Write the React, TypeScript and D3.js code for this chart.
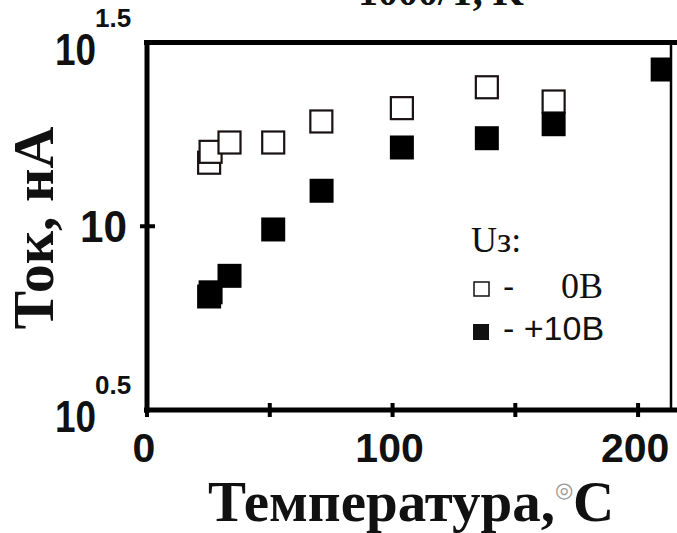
import React from "react";
import * as d3 from "d3";

const W = 677;
const H = 533;

// Data (temperature °C, current nA)
const openT = [25.3, 25.9, 33.6, 51.4, 71.0, 103.8, 138.4, 165.6];
const openI = [14.89, 15.94, 16.9, 16.9, 19.28, 20.96, 23.89, 21.85];
const filledT = [25.3, 25.9, 33.6, 51.4, 71.1, 103.8, 138.4, 165.6, 210.0];
const filledI = [6.44, 6.61, 7.33, 9.8, 12.49, 16.38, 17.36, 18.95, 26.7];

const xTicks = [0, 50, 100, 150, 200];
const xTickLabels = ["0", "", "100", "", "200"];
const yTicks = [Math.pow(10, 0.5), 10, Math.pow(10, 1.5)];
const yTickExp = ["0.5", "", "1.5"];

const SANS = "'Liberation Sans', Arial, sans-serif";
const SERIF = "'Liberation Serif', 'Times New Roman', serif";

export default function App() {
  const left = 147, right = 671, top = 42.5, bottom = 410;
  const x = d3.scaleLinear().domain([0, 213.4]).range([left, right]);
  const y = d3.scaleLog().domain([Math.pow(10, 0.5), Math.pow(10, 1.5)]).range([bottom, top]);
  const ms = 24;

  return (
    <svg width={W} height={H} style={{ position: "absolute", left: 0, top: 0, background: "#fff" }}>
      <defs>
        <clipPath id="plotclip">
          <rect x={left} y={top - 3} width={right - left} height={bottom - top + 3} />
        </clipPath>
      </defs>
      {/* clipped top title */}
      <text x={441} y={5} textAnchor="middle" fontFamily={SERIF} fontWeight="bold" fontSize={40} fill="#111">
        1000/T, K
      </text>

      {/* frame */}
      <line x1={144} x2={W} y1={top} y2={top} stroke="#000" strokeWidth={5} />
      <line x1={144} x2={W} y1={bottom} y2={bottom} stroke="#000" strokeWidth={5} />
      <line x1={left} x2={left} y1={top - 2.5} y2={bottom + 3} stroke="#000" strokeWidth={5} />
      <line x1={right} x2={right} y1={top} y2={bottom} stroke="#000" strokeWidth={2.5} />

      {/* x ticks */}
      {xTicks.map((t, i) => (
        <g key={"xt" + i}>
          <line x1={x(t)} x2={x(t)} y1={bottom - 7} y2={bottom + 7} stroke="#000" strokeWidth={4} />
          {xTickLabels[i] && (
            <text x={x(t) - 3} y={462} textAnchor="middle" fontFamily={SANS} fontWeight="bold" fontSize={41} fill="#111">
              {xTickLabels[i]}
            </text>
          )}
        </g>
      ))}

      {/* y ticks */}
      {yTicks.map((t, i) => {
        const yy = y(t);
        if (yTickExp[i] === "") {
          return (
            <g key={"yt" + i}>
              <line x1={left - 7} x2={left + 8} y1={yy} y2={yy} stroke="#000" strokeWidth={4} />
              <text
                x={80}
                y={yy + 16}
                textAnchor="start"
                fontFamily={SANS}
                fontWeight="bold"
                fontSize={45}
                fill="#111"
                textLength={47}
                lengthAdjust="spacingAndGlyphs"
              >
                10
              </text>
            </g>
          );
        }
        const base = yy + 22;
        return (
          <g key={"yt" + i}>
            <text
              x={55}
              y={base}
              textAnchor="start"
              fontFamily={SANS}
              fontWeight="bold"
              fontSize={45}
              fill="#111"
              textLength={41}
              lengthAdjust="spacingAndGlyphs"
            >
              10
            </text>
            <text x={95} y={base - 38} textAnchor="start" fontFamily={SANS} fontWeight="bold" fontSize={26} fill="#111">
              {yTickExp[i]}
            </text>
          </g>
        );
      })}

      {/* markers */}
      <g clipPath="url(#plotclip)">
        {openT.map((t, i) => (
          <rect
            key={"o" + i}
            x={x(t) - ms / 2 + 1}
            y={y(openI[i]) - ms / 2 + 1}
            width={ms - 2}
            height={ms - 2}
            fill="#fff"
            stroke="#1a1212"
            strokeWidth={2.2}
          />
        ))}
        {filledT.map((t, i) => (
          <rect key={"f" + i} x={x(t) - ms / 2} y={y(filledI[i]) - ms / 2} width={ms} height={ms} fill="#000" />
        ))}
      </g>

      {/* legend */}
      <text x={471} y={252} fontFamily={SERIF} fontSize={36} fill="#111">
        Uз:
      </text>
      <rect x={474} y={282} width={15} height={14} fill="#fff" stroke="#111" strokeWidth={1.5} />
      <text x={503} y={298} fontFamily={SANS} fontSize={34} fill="#111">
        -
      </text>
      <text x={561} y={298} fontFamily={SERIF} fontSize={36} fill="#111">
        0B
      </text>
      <rect x={473} y={324} width={16} height={16} fill="#111" />
      <text x={503} y={340} fontFamily={SANS} fontSize={34} fill="#111">
        - +10B
      </text>

      {/* axis titles */}
      <text
        transform={`translate(53, 228) rotate(-90)`}
        textAnchor="middle"
        fontFamily={SERIF}
        fontWeight="bold"
        fontSize={58}
        fill="#111"
      >
        Ток, нА
      </text>
      <text x={411} y={521} textAnchor="middle" fontFamily={SERIF} fontWeight="bold" fontSize={57} fill="#111">
        Температура,
        <tspan fontSize={21} fontWeight="normal" fill="#999" dy={-24}>
          ◎
        </tspan>
        <tspan dy={24}>C</tspan>
      </text>
    </svg>
  );
}
